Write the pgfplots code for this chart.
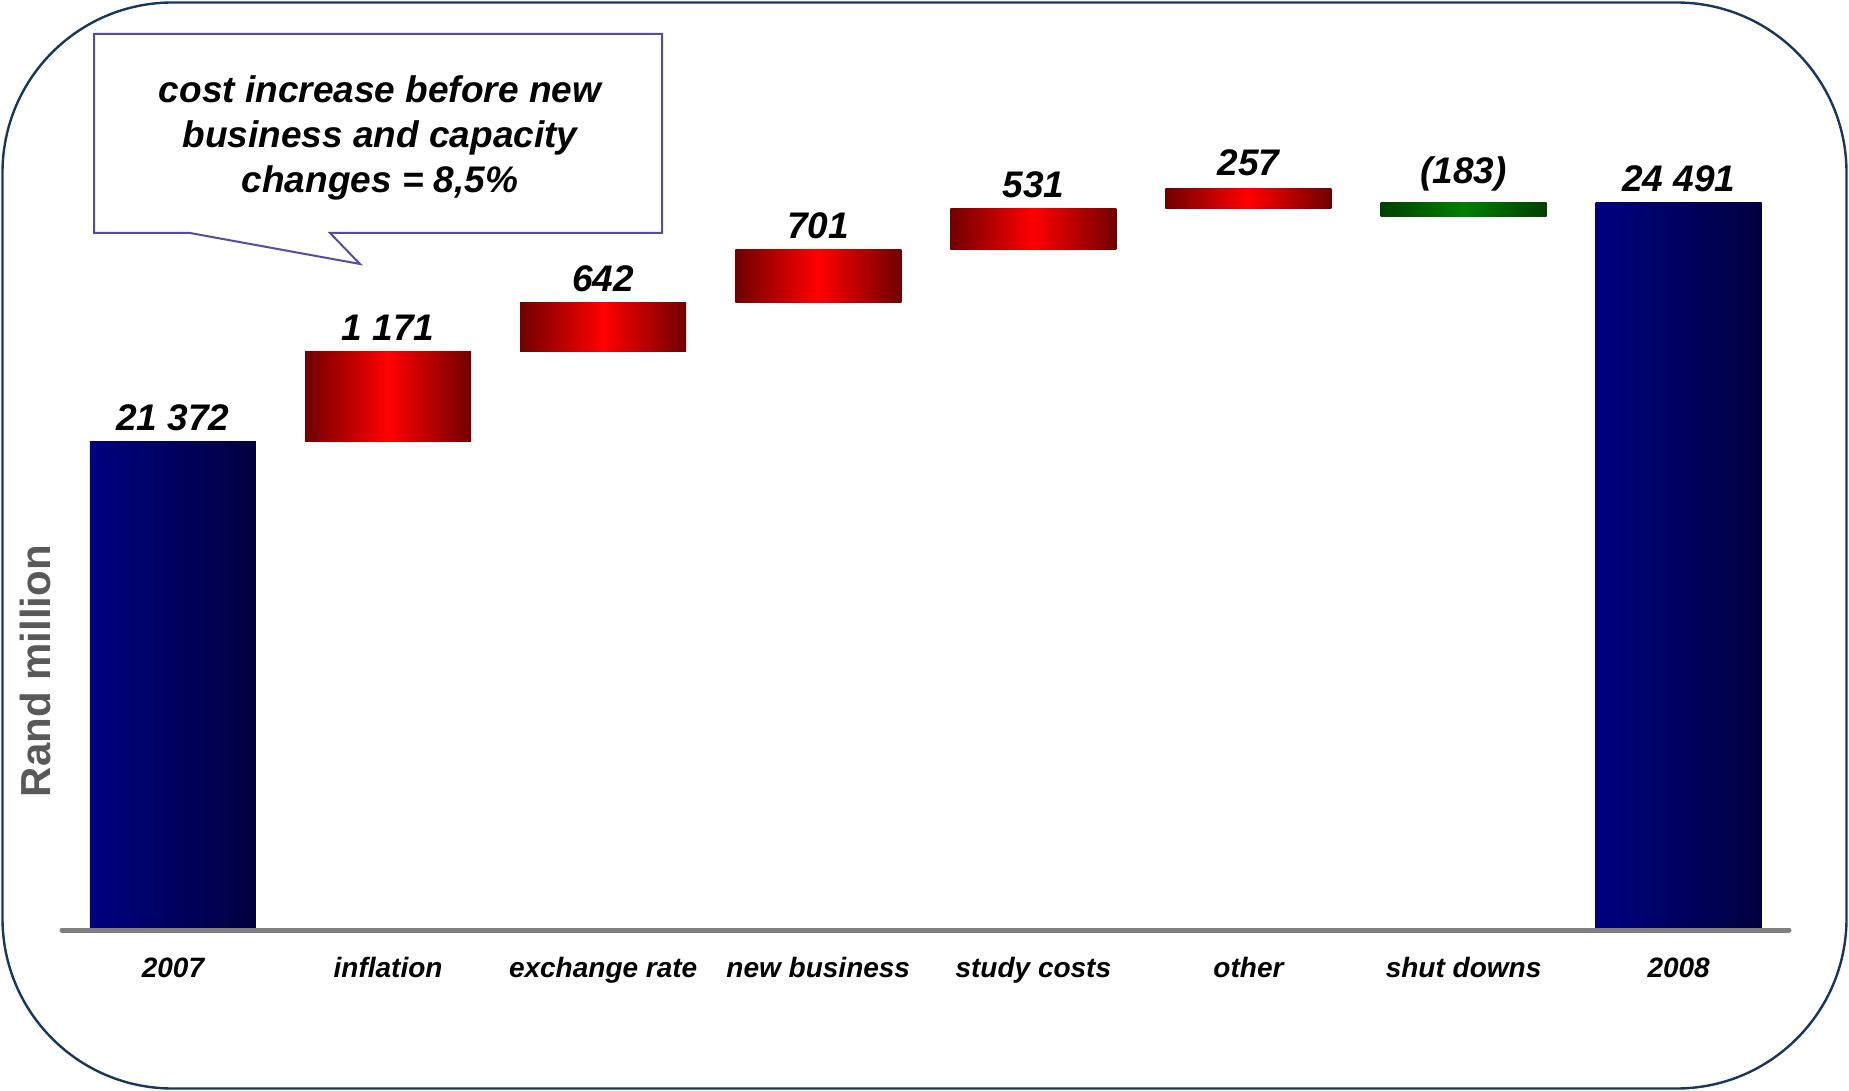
\documentclass[border=0pt]{standalone}
\usepackage{pgfplots}
\pgfplotsset{compat=1.18}
\usepackage{pgfplotstable}
\usepackage{fontspec}
\setmainfont{Liberation Sans}

\definecolor{framecol}{RGB}{23,55,94}
\definecolor{calloutcol}{RGB}{85,75,165}
\definecolor{navyL}{RGB}{0,0,128}
\definecolor{navyR}{RGB}{0,0,64}
\definecolor{redE}{RGB}{112,0,0}
\definecolor{redM}{RGB}{255,0,0}
\definecolor{greenE}{RGB}{0,64,0}
\definecolor{greenM}{RGB}{0,128,0}
\definecolor{axisgray}{RGB}{128,128,128}
\definecolor{labgray}{RGB}{89,89,89}

% totals (start and end)
\pgfplotstableread{
x value
0 21372
7 24491
}\totals
% increases: base and amount
\pgfplotstableread{
x base value
1 21372 1171
2 22543 642
3 23185 701
4 23886 531
5 24417 257
}\increases
% decrease (drawn hanging from the final total, as in the source)
\pgfplotstableread{
x base value
6 24308 183
}\decreases

\newcommand{\vfont}{\fontsize{18.5}{22}\selectfont\bfseries\itshape}

\pgfplotsset{
  wf/.style={
    at={(31pt,-465pt)}, anchor=south west,
    scale only axis, width=863.5pt, height=415pt,
    xmin=-0.516, xmax=7.513, ymin=15000, ymax=25831,
    bar width=83pt,
  }
}

\begin{document}
\begin{tikzpicture}
\begin{scope}[x=0.5pt,y=-0.5pt]
\path[use as bounding box] (0,0) rectangle (1849,1091);
\draw[framecol, line width=1.2pt, rounded corners=85pt] (2.5,2.5) rectangle (1846.5,1088.5);
\end{scope}

% totals, one bar per axis so that each bar gets its own shading
\pgfplotsinvokeforeach{0,1}{
\begin{axis}[wf, hide axis, ybar]
\addplot[draw=none, left color=navyL, right color=navyR,
  restrict expr to domain={\coordindex}{#1:#1}] table[x=x, y=value] {\totals};
\end{axis}
}

% increases
\pgfplotsinvokeforeach{0,...,4}{
\begin{axis}[wf, hide axis, ybar stacked]
\addplot[draw=none, fill=none,
  restrict expr to domain={\coordindex}{#1:#1}] table[x=x, y=base] {\increases};
\addplot[draw=none, left color=redE, right color=redE, middle color=redM,
  restrict expr to domain={\coordindex}{#1:#1}] table[x=x, y=value] {\increases};
\end{axis}
}

% decrease
\begin{axis}[wf, hide axis, ybar stacked]
\addplot[draw=none, fill=none] table[x=x, y=base] {\decreases};
\addplot[draw=none, left color=greenE, right color=greenE, middle color=greenM] table[x=x, y=value] {\decreases};
\end{axis}

\begin{axis}[wf,
  axis y line=none, axis x line*=bottom,
  axis on top,
  x axis line style={axisgray, line width=2.5pt, line cap=round},
  xtick={0,...,7},
  xticklabels={2007,inflation,exchange rate,new business,study costs,other,shut downs,2008},
  major tick length=0pt,
  xticklabel style={font=\fontsize{14}{16}\selectfont\bfseries\itshape, anchor=base, yshift=-23.5pt},
  ytick=\empty,
]
% value labels
\node[anchor=base, font=\vfont, yshift=5.5pt] at (axis cs:0,21372) {21 372};
\node[anchor=base, font=\vfont, yshift=5.5pt] at (axis cs:1,22543) {1 171};
\node[anchor=base, font=\vfont, yshift=5.5pt] at (axis cs:2,23185) {642};
\node[anchor=base, font=\vfont, yshift=5.5pt] at (axis cs:3,23886) {701};
\node[anchor=base, font=\vfont, yshift=5.5pt] at (axis cs:4,24417) {531};
\node[anchor=base, font=\vfont, yshift=6.5pt] at (axis cs:5,24674) {257};
\node[anchor=base, font=\vfont, yshift=9.5pt] at (axis cs:6,24491) {(183)};
\node[anchor=base, font=\vfont, yshift=5.5pt] at (axis cs:7,24491) {24 491};
\end{axis}

\begin{scope}[x=0.5pt,y=-0.5pt]
\draw[calloutcol, line width=1pt, fill=white, line join=miter]
  (94,34) -- (662,34) -- (662,233) -- (330,233) -- (360,264) -- (190,233) -- (94,233) -- cycle;
\node[anchor=base, font=\vfont] at (380,103) {cost increase before new};
\node[anchor=base, font=\vfont] at (380,148) {business and capacity};
\node[anchor=base, font=\vfont] at (380,193) {changes = 8,5\%};
\node[anchor=base, rotate=90, text=labgray, font=\fontsize{21}{24}\selectfont\bfseries] at (50,671) {Rand million};
\end{scope}
\end{tikzpicture}
\end{document}
